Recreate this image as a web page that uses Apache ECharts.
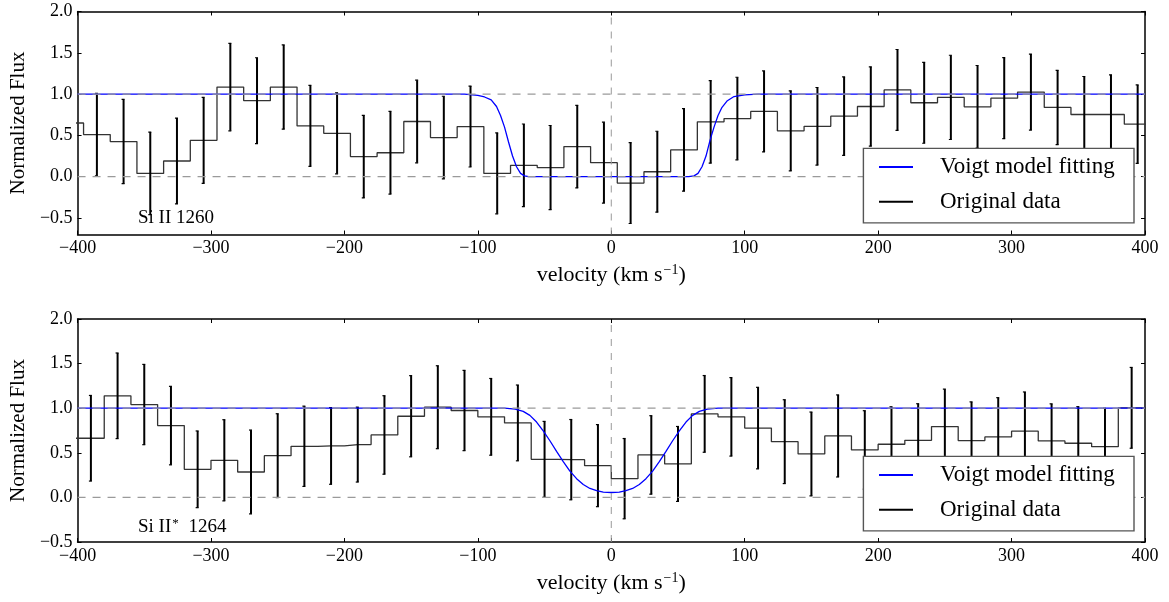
<!DOCTYPE html>
<html><head><meta charset="utf-8">
<script src="https://cdn.jsdelivr.net/npm/echarts@6/dist/echarts.min.js"></script>
<style>html,body{margin:0;padding:0;background:#fff}#c{width:1169px;height:602px}</style>
</head><body><div id="c"></div>
<script>
// ---------- Panel 1: Si II 1260 ----------
const velTop = [-405.5,-385.5,-365.5,-345.5,-325.5,-305.5,-285.5,-265.5,-245.5,-225.5,-205.5,-185.5,-165.5,-145.5,-125.5,-105.5,-85.5,-65.5,-45.5,-25.5,-5.5,14.5,34.5,54.5,74.5,94.5,114.5,134.5,154.5,174.5,194.5,214.5,234.5,254.5,274.5,294.5,314.5,334.5,354.5,374.5,394.5,414.5];
const fluxTop = [0.65,0.51,0.425,0.04,0.19,0.44,1.085,0.92,1.085,0.615,0.525,0.243,0.29,0.668,0.474,0.607,0.04,0.138,0.11,0.364,0.17,-0.077,0.06,0.324,0.664,0.704,0.79,0.555,0.61,0.733,0.85,1.05,0.895,0.96,0.846,0.951,1.024,0.838,0.753,0.753,0.636,0.636];
const errTop = [null,0.50,0.51,0.50,0.52,0.52,0.53,0.52,0.51,0.49,0.49,0.50,0.50,0.50,0.50,0.49,0.49,0.50,0.51,0.50,0.49,0.49,0.49,0.50,0.50,0.50,0.49,0.485,0.47,0.475,0.48,0.49,0.49,0.51,0.50,0.49,0.46,0.45,0.46,0.48,0.475,null];
const modelVelTop = [-400,-110,-100,-95,-90,-86,-83,-80,-77,-74,-71,-68,-65,-62,58,62,65,68,71,74,77,80,83,87,92,100,110,400];
const modelFluxTop = [1,1,0.985,0.965,0.93,0.85,0.74,0.6,0.42,0.25,0.12,0.04,0.01,0,0,0.01,0.04,0.12,0.25,0.44,0.6,0.74,0.84,0.92,0.97,0.99,1,1];

// ---------- Panel 2: Si II* 1264 ----------
const velBot = [-410,-390,-370,-350,-330,-310,-290,-270,-250,-230,-210,-190,-170,-150,-130,-110,-90,-70,-50,-30,-10,10,30,50,70,90,110,130,150,170,190,210,230,250,270,290,310,330,350,370,390,410];
const fluxBot = [0.663,0.663,1.139,1.041,0.805,0.315,0.416,0.285,0.468,0.573,0.577,0.592,0.70,0.91,1.011,0.974,0.903,0.835,0.427,0.423,0.356,0.21,0.476,0.375,0.936,0.903,0.777,0.625,0.487,0.689,0.532,0.596,0.64,0.794,0.637,0.678,0.742,0.633,0.607,0.569,1.004,1.004];
const errBot = [null,0.48,0.48,0.45,0.44,0.43,0.455,0.47,0.47,0.45,0.43,0.42,0.44,0.455,0.465,0.45,0.43,0.425,0.425,0.45,0.46,0.45,0.44,0.42,0.43,0.44,0.457,0.47,0.47,0.46,0.44,0.42,0.41,0.42,0.434,0.44,0.44,0.416,0.41,0.43,0.453,null];
const modelVelBot = [-400,-80,-72,-66,-61,-56,-51,-46,-41,-36,-31,-26,-21,-16,-11,-6,0,6,11,16,21,26,31,36,41,46,51,56,61,66,72,80,400];
const modelFluxBot = [1,1,0.99,0.965,0.92,0.845,0.745,0.635,0.515,0.4,0.295,0.21,0.145,0.1,0.075,0.06,0.055,0.06,0.075,0.1,0.145,0.21,0.295,0.4,0.515,0.635,0.745,0.845,0.92,0.965,0.99,1,1];

const xTicks = [-400,-300,-200,-100,0,100,200,300,400];
const yTicks = [-0.5,0,0.5,1.0,1.5,2.0];
const refLevels = [0, 1];
const refVel = [0];
const panels = [
  {label:'Si II 1260', sup:'', ymin:-0.7, ymax:2.0, vel:velTop, flux:fluxTop, err:errTop, mv:modelVelTop, mf:modelFluxTop},
  {label:'Si II', sup:'*', label2:' 1264', ymin:-0.5, ymax:2.0, vel:velBot, flux:fluxBot, err:errBot, mv:modelVelBot, mf:modelFluxBot}
];
const NAMES = ['Voigt model fitting','Original data'];

const FONT = 'Liberation Serif';
const minus = v => (v < 0 ? '\u2212' + Math.abs(v) : '' + v);

const grids = [
  {left:71.5, top:11.5, width:1073.5, height:223},
  {left:71.5, top:319, width:1073.5, height:223}
];

const xAxes = [], yAxes = [], series = [], legends = [], graphics = [];
panels.forEach((p, gi) => {
  const axisLine = {show:true, onZero:false, lineStyle:{color:'#000', width:1.5}};
  const tick = {show:true, inside:true, length:4, lineStyle:{color:'#000', width:1}};
  xAxes.push({type:'value', gridIndex:gi, min:-400, max:400, interval:100, position:'bottom',
    axisLine, axisTick:Object.assign({customValues:xTicks}, tick), splitLine:{show:false},
    axisLabel:{customValues:xTicks, fontFamily:FONT, fontSize:18, color:'#000', margin:5, formatter:minus},
    name:'velocity (km s{sup|\u22121})', nameLocation:'middle', nameGap:29,
    nameTextStyle:{fontFamily:FONT, fontSize:22, color:'#000', rich:{sup:{fontFamily:FONT, fontSize:14, verticalAlign:'top', padding:[0,0,10,1], color:'#000'}}}
  });
  xAxes.push({type:'value', gridIndex:gi, min:-400, max:400, interval:100, position:'top',
    axisLine, axisTick:Object.assign({customValues:xTicks}, tick), axisLabel:{show:false}, splitLine:{show:false}});
  yAxes.push({type:'value', gridIndex:gi, min:p.ymin, max:p.ymax, position:'left',
    axisLine, splitLine:{show:false},
    axisTick:Object.assign({customValues:yTicks}, tick),
    axisLabel:{customValues:yTicks, fontFamily:FONT, fontSize:18, color:'#000', margin:5, formatter:v => (v<0?'\u2212':'') + Math.abs(v).toFixed(1)},
    name:'Normalized Flux', nameLocation:'middle', nameGap:45, nameRotate:90,
    nameTextStyle:{fontFamily:FONT, fontSize:21, color:'#000'}
  });
  yAxes.push({type:'value', gridIndex:gi, min:p.ymin, max:p.ymax, position:'right',
    axisLine, splitLine:{show:false},
    axisTick:Object.assign({customValues:yTicks}, tick),
    axisLabel:{show:false}});

  const xi = gi*2, yi = gi*2;
  // step data
  series.push({name:NAMES[1], type:'line', xAxisIndex:xi, yAxisIndex:yi, step:'middle', symbol:'none',
    data:p.vel.map((v,i)=>[v,p.flux[i]]), lineStyle:{color:'#333', width:1.3}, itemStyle:{color:'#000'}, z:2, clip:true, animation:false});
  // error bars
  series.push({name:'err'+gi, type:'custom', xAxisIndex:xi, yAxisIndex:yi, clip:true, z:3, animation:false,
    data:p.vel.map((v,i)=>[v,p.flux[i],p.err[i]]).filter(d=>d[2]!=null),
    renderItem:(params, api) => {
      const x = api.value(0), y = api.value(1), e = api.value(2);
      const a = api.coord([x, y+e]), b = api.coord([x, y-e]);
      return {type:'group', children:[
        {type:'line', shape:{x1:a[0], y1:a[1], x2:b[0], y2:b[1]}, style:{stroke:'#000', lineWidth:2}},
        {type:'line', shape:{x1:a[0]-2, y1:a[1], x2:a[0]+1, y2:a[1]}, style:{stroke:'#000', lineWidth:1.2}},
        {type:'line', shape:{x1:b[0]-2, y1:b[1], x2:b[0]+1, y2:b[1]}, style:{stroke:'#000', lineWidth:1.2}}
      ]};
    }});
  // model
  series.push({name:NAMES[0], type:'line', xAxisIndex:xi, yAxisIndex:yi, symbol:'none',
    data:p.mv.map((v,i)=>[v,p.mf[i]]), lineStyle:{color:'#0000ff', width:1.3}, itemStyle:{color:'#0000ff'}, z:4, clip:true, animation:false});
  // reference dashed lines
  refLevels.forEach(l => series.push({type:'line', xAxisIndex:xi, yAxisIndex:yi, symbol:'none', silent:true, z:5, animation:false,
    data:[[-400,l],[400,l]], lineStyle:{color:'#9a9a9a', width:1.3, type:[8,7]}}));
  refVel.forEach(v => series.push({type:'line', xAxisIndex:xi, yAxisIndex:yi, symbol:'none', silent:true, z:5, animation:false,
    data:[[v,p.ymin],[v,p.ymax]], lineStyle:{color:'#9a9a9a', width:1, type:[7,7]}}));

  // legend
  const boxTop = gi === 0 ? 147.7 : 455.7;
  graphics.push({type:'rect', left:862.7, top:boxTop, z:100, shape:{x:0,y:0,width:270.6,height:74.5},
    style:{fill:'#fff', stroke:'#555', lineWidth:1.4}});
  legends.push({data:NAMES, orient:'vertical', left:879, top:boxTop+6.3, z:101, padding:0,
    icon:'rect', itemWidth:34, itemHeight:2, itemGap:8.7,
    textStyle:{fontFamily:FONT, fontSize:23, color:'#000', lineHeight:26, padding:[0,0,0,22]},
    selectedMode:false});
  // label
  graphics.push({type:'text', left:138, top: gi===0 ? 209 : 517, z:100,
    style:{text: p.sup ? '{a|'+p.label+'}{s|'+p.sup+'}{a|'+p.label2+'}' : '{a|'+p.label+'}',
      rich:{a:{fontFamily:FONT, fontSize:19, fill:'#000'}, s:{fontFamily:FONT, fontSize:13, fill:'#000', verticalAlign:'top', padding:[0,5,8,1]}},
      fill:'#000'}});
});

const chart = echarts.init(document.getElementById('c'), null, {renderer:'canvas'});
chart.setOption({
  backgroundColor:'#fff',
  animation:false,
  grid:grids,
  xAxis:xAxes, yAxis:yAxes,
  series:series,
  legend:legends,
  graphic:{elements:graphics}
});
</script></body></html>
